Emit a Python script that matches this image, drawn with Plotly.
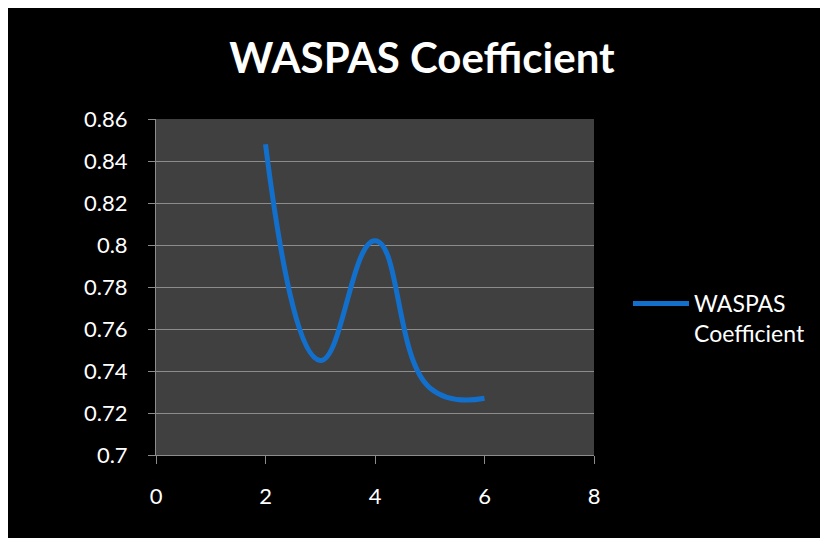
import plotly.graph_objects as go

x_vals = [2, 3, 4, 5, 6]
y_vals = [0.848, 0.745, 0.802, 0.732, 0.727]
series_name = "WASPAS<br>Coefficient"
title_text = "WASPAS Coefficient"
y_ticks = [0.7, 0.72, 0.74, 0.76, 0.78, 0.8, 0.82, 0.84, 0.86]
y_tick_labels = ["0.7", "0.72", "0.74", "0.76", "0.78", "0.8", "0.82", "0.84", "0.86"]
x_ticks = [0, 2, 4, 6, 8]
x_tick_labels = ["0", "2", "4", "6", "8"]

W, H = 828, 538
# plot area in figure coordinates (page has an 8px body margin)
L, R, T, B = 148, 586, 111, 447
pw, ph = R - L, B - T

FONT = "Lato, 'Open Sans', sans-serif"

fig = go.Figure()
fig.add_trace(go.Scatter(
    x=x_vals, y=y_vals, mode="lines", name=series_name,
    line=dict(color="#1270CC", width=5, shape="spline", smoothing=1.3),
))

def px2paper_x(p):
    return (p - L) / pw

def px2paper_y(p):
    return (B - p) / ph

fig.update_layout(
    width=W, height=H,
    margin=dict(l=L, r=W - R, t=T, b=H - B, pad=0),
    paper_bgcolor="black",
    plot_bgcolor="#404040",
    font=dict(family=FONT, color="white", size=22),
    title=dict(text="<b>" + title_text + "</b>", x=px2paper_x(414), xref="paper",
               xanchor="center", y=1 - 50 / H, yanchor="middle",
               font=dict(size=42, color="white", family=FONT)),
    showlegend=True,
    legend=dict(x=px2paper_x(620), y=px2paper_y(274), xanchor="left", yanchor="top",
                font=dict(size=23, color="white", family=FONT),
                bgcolor="rgba(0,0,0,0)", valign="top", itemwidth=56),
    xaxis=dict(range=[0, 8], tickvals=x_ticks, ticktext=x_tick_labels,
               showgrid=False, zeroline=False, showline=True, linecolor="#8c8c8c",
               linewidth=1, ticks="outside", ticklen=8, tickcolor="#8c8c8c",
               tickfont=dict(size=22, color="white", family=FONT),
               ticklabelstandoff=14),
    yaxis=dict(range=[0.7, 0.86], tickvals=y_ticks, ticktext=y_tick_labels,
               showgrid=True, gridcolor="#8c8c8c", gridwidth=1, zeroline=False,
               showline=True, linecolor="#8c8c8c", linewidth=1,
               ticks="outside", ticklen=7, tickcolor="#8c8c8c",
               tickfont=dict(size=22, color="white", family=FONT),
               ticklabelstandoff=16),
)

fig.write_html("out.html")
